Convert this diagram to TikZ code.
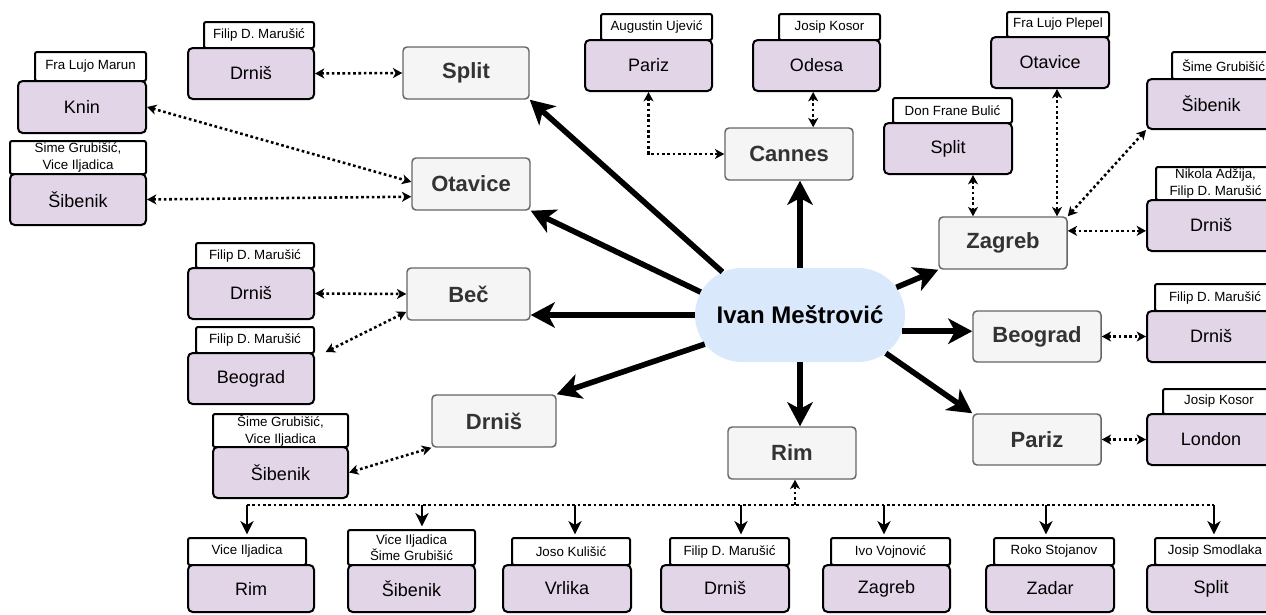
\documentclass[tikz,border=0pt]{standalone}
\usepackage{fontspec}
\setmainfont{Liberation Sans}
\usetikzlibrary{arrows.meta,shapes.misc}
\definecolor{gfill}{HTML}{F5F5F5}
\definecolor{gstroke}{HTML}{666666}
\definecolor{gtext}{HTML}{333333}
\definecolor{pfill}{HTML}{E1D5E7}
\definecolor{cfill}{HTML}{DAE8FC}
\newcommand\mybox[7]{\node[#1, minimum width={(#5-#3)*0.75pt}, minimum height={(#6-#4)*0.75pt}] (#2) at ({(#3+#5)/2},{(#4+#6)/2}) {#7};}
\newcommand\grbox[6]{\mybox{gbox}{#1}{#2}{#3}{#4}{#5}{#6}}
\newcommand\pubox[6]{\mybox{pbox}{#1}{#2}{#3}{#4}{#5}{#6}}
\newcommand\lab[6]{\mybox{lbox}{#1}{#2}{#3}{#4}{#5}{#6}}
\tikzset{
 gbox/.style={draw=gstroke, fill=gfill, rounded corners=3pt, line width=1.1pt, inner sep=0pt, text=gtext, font=\bfseries\fontsize{16.5}{19}\selectfont},
 pbox/.style={draw=black, fill=pfill, rounded corners=3.5pt, line width=1.5pt, inner sep=0pt, font=\fontsize{13.5}{16}\selectfont},
 lbox/.style={draw=black, fill=white, rounded corners=1.5pt, line width=1.5pt, inner sep=0pt, align=center, font=\fontsize{10}{12.4}\selectfont},
 cnode/.style={rounded rectangle, fill=cfill, draw=none, minimum width=157.5pt, minimum height=70.5pt, inner sep=0pt, font=\bfseries\fontsize{18}{20}\selectfont},
 bigarr/.style={line width=4.2pt, -{Stealth[length=18pt,width=19pt,inset=5pt]}},
 dotarr/.style={line width=1.9pt, dash pattern=on 2pt off 2pt, {Stealth[length=7pt,width=7.5pt,inset=2pt]}-{Stealth[length=7pt,width=7.5pt,inset=2pt]}},
 dotone/.style={line width=1.9pt, dash pattern=on 2pt off 2pt, -{Stealth[length=7pt,width=7.5pt,inset=2pt]}},
 dotline/.style={line width=1.9pt, dash pattern=on 2pt off 2pt},
 downarr/.style={line width=1.5pt, -{Stealth[length=10pt,width=10pt,inset=3pt]}, shorten >=2pt},
}
\begin{document}
\begin{tikzpicture}[x=0.75pt,y=-0.75pt]
\useasboundingbox (0,0) rectangle (1266,614);
\clip (0,0) rectangle (1266,614);
% centre
\node[cnode] (c) at (800,315) {Ivan Meštrović};
% grey boxes
\grbox{splitG}{403}{47}{529}{99}{Split}
\grbox{otG}{412}{158}{530}{210}{Otavice}
\grbox{becG}{407}{268}{530}{320}{Beč}
\grbox{drnG}{432}{395}{556}{447}{Drniš}
\grbox{cannesG}{725}{128}{853}{180}{Cannes}
\grbox{rimG}{728}{427}{856}{479}{Rim}
\grbox{zagG}{939}{217}{1067}{269}{Zagreb}
\grbox{beoG}{973}{311}{1101}{362}{Beograd}
\grbox{parG}{973}{414}{1101}{465}{Pariz}
% labels
\lab{drnTLl}{204}{22}{314}{48}{Filip D. Marušić}
\lab{kninl}{35}{52}{146}{81}{Fra Lujo Marun}
\lab{sibLl}{10}{141}{146}{174}{Sime Grubišić,\\Vice Iljadica}
\lab{drnLl}{196}{243}{314}{268}{Filip D. Marušić}
\lab{beoLl}{196}{327}{314}{353}{Filip D. Marušić}
\lab{sibL2l}{213}{414}{348}{447}{Šime Grubišić,\\Vice Iljadica}
\lab{parTl}{601}{14}{712}{40}{Augustin Ujević}
\lab{odesal}{779}{14}{880}{40}{Josip Kosor}
\lab{otRl}{1007}{12}{1109}{37}{Fra Lujo Plepel}
\lab{splitRl}{893}{98}{1012}{123}{Don Frane Bulić}
\lab{sibRl}{1172}{52}{1275}{79}{Šime Grubišić}
\lab{drnRl}{1156}{167}{1275}{200}{Nikola Adžija,\\Filip D. Marušić}
\lab{drnR2l}{1155}{284}{1275}{311}{Filip D. Marušić}
\lab{londonl}{1163}{389}{1275}{414}{Josip Kosor}
\lab{rimBl}{188}{538}{306}{565}{Vice Iljadica}
\lab{sibBl}{348}{530}{475}{565}{Vice Iljadica\\Šime Grubišić}
\lab{vrlikal}{512}{538}{630}{565}{Joso Kulišić}
\lab{drnBl}{670}{538}{789}{565}{Filip D. Marušić}
\lab{zagBl}{831}{538}{950}{565}{Ivo Vojnović}
\lab{zadarl}{994}{538}{1114}{565}{Roko Stojanov}
\lab{splitBl}{1155}{538}{1275}{565}{Josip Smodlaka}
% purple boxes
\pubox{drnTL}{188}{48}{314}{99}{Drniš}
\pubox{knin}{18}{81}{146}{133}{Knin}
\pubox{sibL}{10}{174}{146}{225}{Šibenik}
\pubox{drnL}{188}{268}{314}{319}{Drniš}
\pubox{beoL}{188}{353}{314}{404}{Beograd}
\pubox{sibL2}{213}{447}{348}{498}{Šibenik}
\pubox{parT}{585}{40}{712}{91}{Pariz}
\pubox{odesa}{753}{40}{880}{91}{Odesa}
\pubox{otR}{991}{37}{1109}{88}{Otavice}
\pubox{splitR}{884}{123}{1012}{174}{Split}
\pubox{sibR}{1147}{79}{1275}{129}{Šibenik}
\pubox{drnR}{1147}{200}{1275}{251}{Drniš}
\pubox{drnR2}{1147}{311}{1275}{362}{Drniš}
\pubox{london}{1147}{414}{1275}{465}{London}
\pubox{rimB}{188}{565}{314}{612}{Rim}
\pubox{sibB}{348}{565}{475}{612}{Šibenik}
\pubox{vrlika}{503}{565}{631}{612}{Vrlika}
\pubox{drnB}{661}{565}{789}{612}{Drniš}
\pubox{zagB}{823}{565}{950}{612}{Zagreb}
\pubox{zadar}{986}{565}{1114}{612}{Zadar}
\pubox{splitB}{1147}{565}{1275}{612}{Split}
% thick arrows from centre
\draw[bigarr] (c.151) -- (splitG.south east);
\draw[bigarr] (c.167) -- (otG.south east);
\draw[bigarr] (c.west) -- (c.west -| becG.east);
\draw[bigarr] (c.197) -- (drnG.north east);
\draw[bigarr] (c.north) -- (c.north |- cannesG.south);
\draw[bigarr] (c.south) -- (c.south |- rimG.north);
\draw[bigarr] (c.16) -- (zagG.south west);
\draw[bigarr] (c.-9) -- (c.-9 -| beoG.west);
\draw[bigarr] (c.-24) -- (parG.north west);
% dotted connectors
\draw[dotarr] (drnTL.east) -- (splitG.west);
\draw[dotarr] (knin.east) -- (otG.178);
\draw[dotarr] (sibL.east) -- (otG.192);
\draw[dotarr] (drnL.east) -- (becG.west);
\draw[dotarr] ([xshift=8pt]beoL.north east) -- (becG.196);
\draw[dotarr] (sibL2.east) -- (drnG.south west);
\draw[dotarr] (parT.south) |- (cannesG.west);
\coordinate (oc) at ([xshift=-2.5pt]odesa.south);
\draw[dotarr] (oc) -- (oc |- cannesG.north);
\coordinate (sz) at ([xshift=18.75pt]splitR.south);
\draw[dotarr] (sz) -- (sz |- zagG.north);
\coordinate (oz) at ([xshift=5.25pt]otR.south);
\draw[dotarr] (oz) -- (oz |- zagG.north);
\draw[dotarr] (sibR.south west) -- (zagG.north east);
\coordinate (dz) at ([yshift=-4pt]drnR.west);
\draw[dotarr] (dz) -- (dz -| zagG.east);
\draw[dotarr] (beoG.east) -- (drnR2.west);
\draw[dotarr] (parG.east) -- (london.west);
% bottom bus
\coordinate (b1) at (247,505);
\coordinate (b2) at (422,505);
\coordinate (b3) at (575,505);
\coordinate (b4) at (741,505);
\coordinate (b5) at (884,505);
\coordinate (b6) at (1046,505);
\coordinate (b7) at (1214,505);
\coordinate (bR) at (795,505);
\draw[dotline] (b1) -- (b7);
\draw[dotone] (bR) -- (bR |- rimG.south);
\draw[downarr] (b1) -- (b1 |- rimBl.north);
\draw[downarr] (b2) -- (b2 |- sibBl.north);
\draw[downarr] (b3) -- (b3 |- vrlikal.north);
\draw[downarr] (b4) -- (b4 |- drnBl.north);
\draw[downarr] (b5) -- (b5 |- zagBl.north);
\draw[downarr] (b6) -- (b6 |- zadarl.north);
\draw[downarr] (b7) -- (b7 |- splitBl.north);
\end{tikzpicture}
\end{document}
